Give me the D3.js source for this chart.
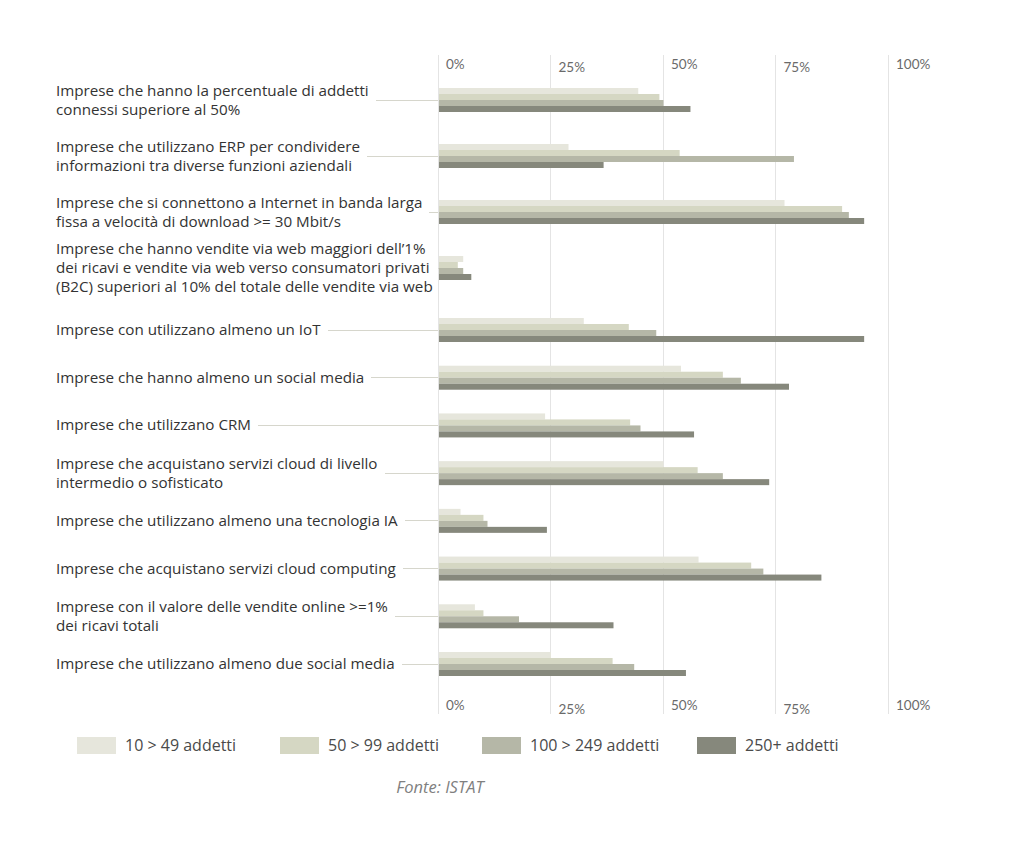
<!DOCTYPE html>
<html>
<head>
<meta charset="utf-8">
<script src="https://cdn.jsdelivr.net/npm/d3@7"></script>
<style>
  html, body { margin: 0; padding: 0; background: #ffffff; }
  svg { display: block; }
  text { font-family: "Open Sans", Lato, sans-serif; }
  text.tick { font-family: Lato, "Open Sans", sans-serif; }
</style>
</head>
<body>
<svg id="chart" width="1024" height="847"></svg>
<script>
// ---- DATA ----
const categories = [
  ["Imprese che hanno la percentuale di addetti", "connessi superiore al 50%"],
  ["Imprese che utilizzano ERP per condividere", "informazioni tra diverse funzioni aziendali"],
  ["Imprese che si connettono a Internet in banda larga", "fissa a velocità di download >= 30 Mbit/s"],
  ["Imprese che hanno vendite via web maggiori dell’1%", "dei ricavi e vendite via web verso consumatori privati", "(B2C) superiori al 10% del totale delle vendite via web"],
  ["Imprese con utilizzano almeno un IoT"],
  ["Imprese che hanno almeno un social media"],
  ["Imprese che utilizzano CRM"],
  ["Imprese che acquistano servizi cloud di livello", "intermedio o sofisticato"],
  ["Imprese che utilizzano almeno una tecnologia IA"],
  ["Imprese che acquistano servizi cloud computing"],
  ["Imprese con il valore delle vendite online >=1%", "dei ricavi totali"],
  ["Imprese che utilizzano almeno due social media"]
];
const seriesNames = ["10 > 49 addetti", "50 > 99 addetti", "100 > 249 addetti", "250+ addetti"];
const s10_49   = [44.5, 29.0, 77.0, 5.6, 32.4, 54.0, 23.8, 50.1, 5.0, 57.9, 8.2, 25.1];
const s50_99   = [49.2, 53.7, 89.8, 4.4, 42.4, 63.3, 42.7, 57.7, 10.1, 69.6, 10.1, 38.8];
const s100_249 = [50.1, 79.1, 91.3, 5.6, 48.5, 67.3, 45.0, 63.3, 11.0, 72.3, 18.0, 43.6];
const s250     = [56.1, 36.8, 94.7, 7.4, 94.7, 78.0, 56.9, 73.6, 24.2, 85.2, 39.0, 55.1];
const tickValues = [0, 25, 50, 75, 100];
const tickLabels = ["0%", "25%", "50%", "75%", "100%"];
const source = "Fonte: ISTAT";

const colors = ["#e6e6dc", "#d5d7c3", "#b5b7a7", "#86887c"];
const series = [s10_49, s50_99, s100_249, s250];

// ---- LAYOUT ----
const svg = d3.select("#chart");
const x = d3.scaleLinear().domain([0, 100]).range([438, 888]);
// group centres: first four groups spaced wider than the remaining ones
const y = d3.scaleLinear().domain([0, 3, 4, 11]).range([100, 268, 330, 664]);
const barH = 6;
const sub = d3.scaleBand().domain(d3.range(series.length)).range([-12, 12]);

// grid lines
svg.append("g").selectAll("line").data(tickValues).join("line")
  .attr("x1", d => x(d)).attr("x2", d => x(d))
  .attr("y1", 55).attr("y2", 714)
  .attr("stroke", "#e4e4e4").attr("stroke-width", 1)
  .attr("shape-rendering", "crispEdges");

// tick labels (top and bottom)
const tickG = svg.append("g").attr("font-size", 13.5).attr("fill", "#6a6a6a");
tickG.selectAll("text.top").data(tickValues).join("text").attr("class", "tick top")
  .attr("x", d => x(d) + 8).attr("y", (d, i) => i % 2 ? 72 : 69)
  .text((d, i) => tickLabels[i]);
tickG.selectAll("text.bot").data(tickValues).join("text").attr("class", "tick bot")
  .attr("x", d => x(d) + 8).attr("y", (d, i) => i % 2 ? 714 : 710)
  .text((d, i) => tickLabels[i]);

// category labels with leader lines
const lineH = 19;
const labG = svg.append("g");
categories.forEach((lines, i) => {
  const cy = y(i);
  const g = labG.append("g");
  const t = g.append("text").attr("font-size", 15.2).attr("fill", "#333333");
  const n = lines.length;
  lines.forEach((ln, k) => {
    t.append("tspan").attr("x", 56)
      .attr("y", cy + (k - (n - 1) / 2) * lineH + 5)
      .text(ln);
  });
  const w = t.node().getBBox().width;
  g.append("line")
    .attr("x1", 56 + w + 7).attr("x2", x(0))
    .attr("y1", cy).attr("y2", cy)
    .attr("stroke", "#d6d6cc").attr("stroke-width", 1)
    .attr("shape-rendering", "crispEdges");
});

// bars
const barG = svg.append("g");
series.forEach((vals, s) => {
  barG.append("g").selectAll("rect").data(vals).join("rect")
    .attr("x", x(0) + 1)
    .attr("y", (d, i) => y(i) + sub(s))
    .attr("width", d => x(d) - x(0) - 1)
    .attr("height", barH)
    .attr("fill", colors[s]);
});

// legend
const legX = [77, 280, 482, 697];
const legG = svg.append("g");
seriesNames.forEach((name, i) => {
  legG.append("rect").attr("x", legX[i]).attr("y", 737)
    .attr("width", 39).attr("height", 17).attr("fill", colors[i]);
  legG.append("text").attr("x", legX[i] + 48).attr("y", 751)
    .attr("font-size", 16).attr("fill", "#4a4a4a").text(name);
});

// source
svg.append("text").attr("x", 440).attr("y", 793)
  .attr("text-anchor", "middle").attr("font-size", 16.5)
  .attr("font-style", "italic").attr("fill", "#808080").text(source);
</script>
</body>
</html>
